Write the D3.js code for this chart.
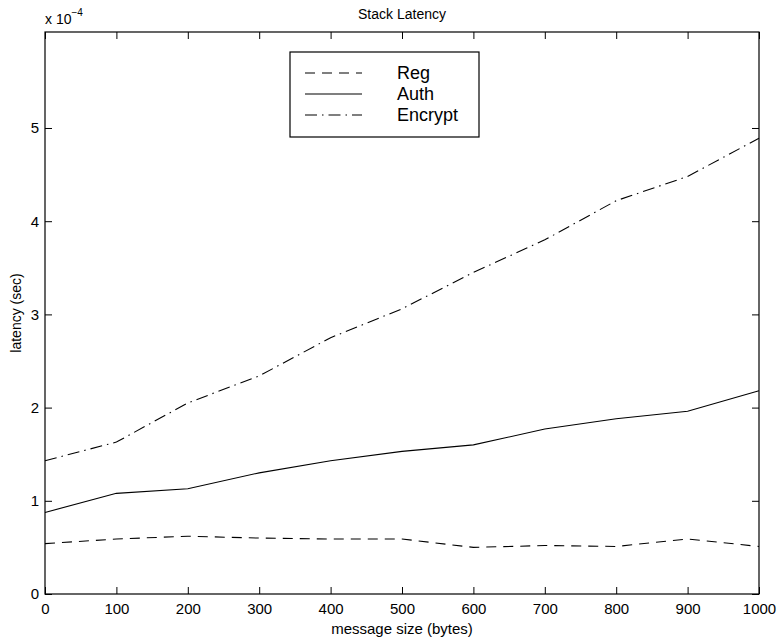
<!DOCTYPE html>
<html>
<head>
<meta charset="utf-8">
<script src="https://cdn.jsdelivr.net/npm/d3@7"></script>
<style>
  body { margin: 0; background: #fff; }
  text { font-family: "Liberation Sans", Arial, Helvetica, sans-serif; fill: #000; }
</style>
</head>
<body>
<svg id="chart" width="779" height="642"></svg>
<script>
let w = 779
let h = 642

// message size (bytes)
let sizes = [0, 100, 200, 300, 400, 500, 600, 700, 800, 900, 1000]
// latency, units of 1e-4 sec
let regVals = [0.54, 0.59, 0.62, 0.60, 0.59, 0.59, 0.50, 0.52, 0.51, 0.59, 0.51]
let authVals = [0.875, 1.08, 1.13, 1.30, 1.43, 1.53, 1.60, 1.77, 1.88, 1.96, 2.18]
let encVals = [1.43, 1.63, 2.05, 2.34, 2.75, 3.06, 3.45, 3.80, 4.22, 4.48, 4.89]

let xTicks = [0, 100, 200, 300, 400, 500, 600, 700, 800, 900, 1000]
let yTicks = [0, 1, 2, 3, 4, 5]

let seriesNames = ['Reg', 'Auth', 'Encrypt']
let seriesVals = [regVals, authVals, encVals]
let dashes = ['10,7', null, '12,5,1.5,5']

let margin = {left: 45, right: 20, top: 32, bottom: 48}

let svg = d3.select('#chart')

let x = d3.scaleLinear().domain([0, 1000]).range([margin.left, w - margin.right])
let y = d3.scaleLinear().domain([0, 6.03]).range([h - margin.bottom, margin.top])

let x0 = x.range()[0], x1 = x.range()[1]
let y0 = y.range()[0], y1 = y.range()[1]

let fmt = d3.format('d')

// axes: ticks inside, labels bottom/left
svg.append('g')
  .attr('transform', 'translate(0,' + y0 + ')')
  .call(d3.axisBottom(x).tickValues(xTicks).tickFormat(fmt).tickSizeInner(-7).tickSizeOuter(0).tickPadding(9))
svg.append('g')
  .attr('transform', 'translate(0,' + y1 + ')')
  .call(d3.axisTop(x).tickValues(xTicks).tickSizeInner(-7).tickSizeOuter(0).tickFormat(''))
svg.append('g')
  .attr('transform', 'translate(' + x0 + ',0)')
  .call(d3.axisLeft(y).tickValues(yTicks).tickFormat(fmt).tickSizeInner(-7).tickSizeOuter(0).tickPadding(6))
svg.append('g')
  .attr('transform', 'translate(' + x1 + ',0)')
  .call(d3.axisRight(y).tickValues(yTicks).tickSizeInner(-7).tickSizeOuter(0).tickFormat(''))

svg.selectAll('.domain').remove()
svg.selectAll('.tick line').attr('stroke', '#000')
svg.selectAll('.tick text').attr('font-size', 15).attr('font-family', '"Liberation Sans", Arial, sans-serif')

svg.append('rect')
  .attr('x', x0).attr('y', y1)
  .attr('width', x1 - x0).attr('height', y0 - y1)
  .attr('fill', 'none').attr('stroke', '#000').attr('stroke-width', 1.2)

let line = d3.line()
  .x((d, i) => x(sizes[i]))
  .y((d) => y(d))

svg.selectAll('.series')
  .data(seriesVals)
  .join('path')
  .attr('class', 'series')
  .attr('d', (d) => line(d))
  .attr('fill', 'none')
  .attr('stroke', '#000')
  .attr('stroke-width', 1.1)
  .attr('stroke-dasharray', (d, i) => dashes[i])

// legend
let lg = svg.append('g').attr('transform', 'translate(290,52)')
lg.append('rect')
  .attr('width', 189).attr('height', 85)
  .attr('fill', '#fff').attr('stroke', '#000').attr('stroke-width', 1.2)

let legendRow = lg.selectAll('.lrow')
  .data(seriesNames)
  .join('g')
  .attr('class', 'lrow')
  .attr('transform', (d, i) => 'translate(0,' + (21 + 21 * i) + ')')

legendRow.append('line')
  .attr('x1', 15).attr('x2', 72)
  .attr('stroke', '#000').attr('stroke-width', 1.1)
  .attr('stroke-dasharray', (d, i) => dashes[i])

legendRow.append('text')
  .text((d) => d)
  .attr('x', 107).attr('y', 6)
  .attr('font-size', 18)

// labels
svg.append('text')
  .text('Stack Latency')
  .attr('x', (x0 + x1) / 2).attr('y', 19)
  .attr('text-anchor', 'middle').attr('font-size', 14)

svg.append('text')
  .text('message size (bytes)')
  .attr('x', (x0 + x1) / 2).attr('y', 634)
  .attr('text-anchor', 'middle').attr('font-size', 15)

svg.append('text')
  .text('latency (sec)')
  .attr('transform', 'translate(21,' + ((y0 + y1) / 2) + ') rotate(-90)')
  .attr('text-anchor', 'middle').attr('font-size', 14)

let expo = svg.append('text')
  .attr('x', x0).attr('y', 24).attr('font-size', 14)
expo.append('tspan').text('x 10')
expo.append('tspan').text('\u22124').attr('font-size', 10).attr('dy', -8)
</script>
</body>
</html>
